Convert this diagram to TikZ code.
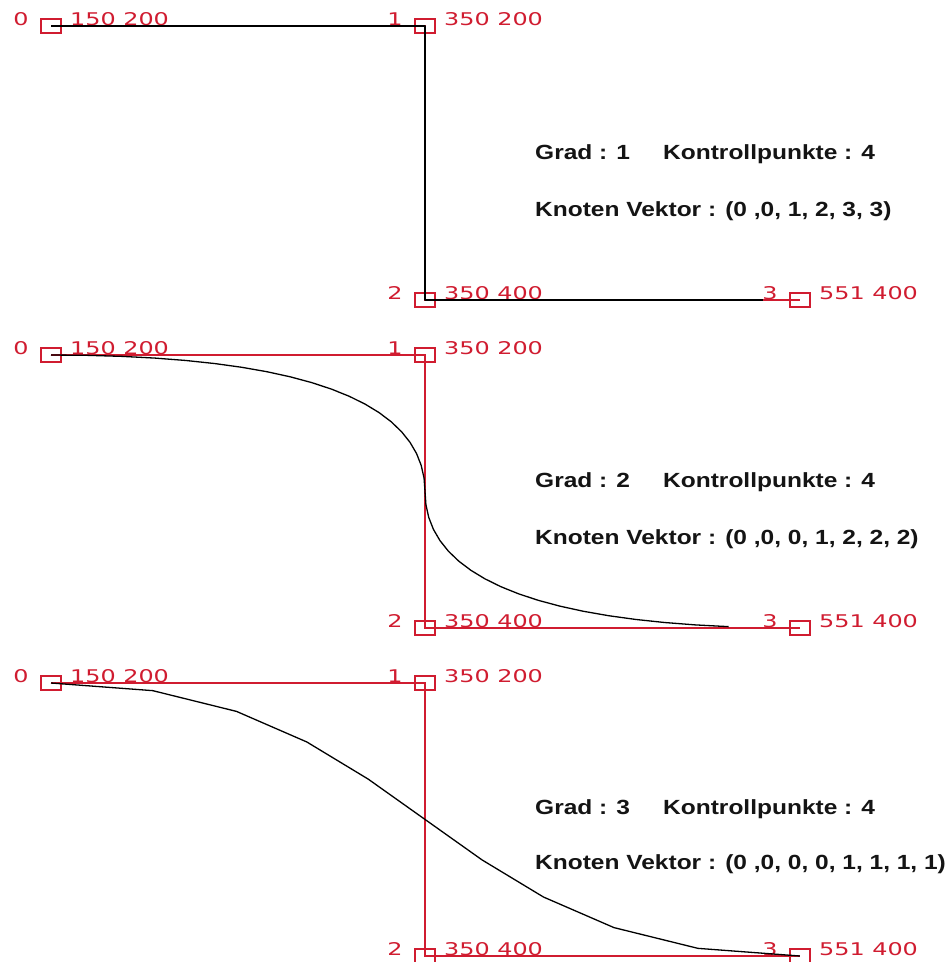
\documentclass[tikz,border=0pt]{standalone}
\usepackage{fontspec}
\newfontfamily\lblfont[FakeStretch=1.365]{DejaVu Sans}
\newfontfamily\infofont[FakeStretch=1.195]{Liberation Sans}
\definecolor{ctrlred}{RGB}{208,28,48}
\definecolor{infoblack}{RGB}{20,20,20}
\tikzset{
  ctrlbox/.style={draw=ctrlred, line width=1.4pt, minimum width=20pt, minimum height=14pt, inner sep=0pt},
  poly/.style={draw=ctrlred, line width=1.4pt},
  curve/.style={draw=black, line width=1.3pt, line join=round},
  idx/.style={text=ctrlred, font=\lblfont\fontsize{17.5}{20}\selectfont, inner sep=0pt, anchor=base},
  xy/.style={text=ctrlred, font=\lblfont\fontsize{17.5}{20}\selectfont, inner sep=0pt, anchor=base west},
  info/.style={text=infoblack, font=\infofont\bfseries\fontsize{20.5}{23}\selectfont, inner sep=0pt, anchor=base west}
}
\begin{document}
\begin{tikzpicture}[x=1pt,y=-1pt]
\fill[white] (0,0) rectangle (948,962);
\useasboundingbox (0,0) rectangle (948,962);

% ---------- degree 1 ----------
\node[ctrlbox] (a0) at (51,26) {};
\node[ctrlbox] (a1) at (425,26) {};
\node[ctrlbox] (a2) at (425,300) {};
\node[ctrlbox] (a3) at (800,300) {};
\draw[poly] (a0.center) -- (a1.center) -- (a2.center) -- (a3.center);
\node[idx] (a0i) at (21,25) {0};
\node[xy]  (a0c) at (70,25) {150 200};
\node[idx] (a1i) at (395,25) {1};
\node[xy]  (a1c) at (444,25) {350 200};
\node[idx] (a2i) at (395,299) {2};
\node[xy]  (a2c) at (444,299) {350 400};
\node[idx] (a3i) at (770,299) {3};
\node[xy]  (a3c) at (819,299) {551 400};
\coordinate (a3e) at (762.5,300);
\draw[curve] (a0.center) -- (a1.center) -- (a2.center) -- (a3e);
\node[info] (g1) at (535,159) {Grad : 1};
\node[info] (k1) at (663,159) {Kontrollpunkte : 4};
\node[info] (v1) at (535,216) {Knoten Vektor : (0 ,0, 1, 2, 3, 3)};

% ---------- degree 2 ----------
\node[ctrlbox] (b0) at (51,355) {};
\node[ctrlbox] (b1) at (425,355) {};
\node[ctrlbox] (b2) at (425,628) {};
\node[ctrlbox] (b3) at (800,628) {};
\draw[poly] (b0.center) -- (b1.center) -- (b2.center) -- (b3.center);
\node[idx] (b0i) at (21,354) {0};
\node[xy]  (b0c) at (70,354) {150 200};
\node[idx] (b1i) at (395,354) {1};
\node[xy]  (b1c) at (444,354) {350 200};
\node[idx] (b2i) at (395,627) {2};
\node[xy]  (b2c) at (444,627) {350 400};
\node[idx] (b3i) at (770,627) {3};
\node[xy]  (b3c) at (819,627) {551 400};
% quadratic B-spline, knots (0,0,0,1,2,2,2)
\draw[curve] plot[domain=0:1, samples=21] ({425-374*(1-\x)^2},{355+136.5*\x^2})
  -- plot[domain=0:0.9, samples=19] ({425+375*\x^2},{628-136.5*(1-\x)^2});
\node[info] (g2) at (535,487) {Grad : 2};
\node[info] (k2) at (663,487) {Kontrollpunkte : 4};
\node[info] (v2) at (535,544) {Knoten Vektor : (0 ,0, 0, 1, 2, 2, 2)};

% ---------- degree 3 ----------
\node[ctrlbox] (c0) at (51,683) {};
\node[ctrlbox] (c1) at (425,683) {};
\node[ctrlbox] (c2) at (425,956) {};
\node[ctrlbox] (c3) at (800,956) {};
\draw[poly] (c0.center) -- (c1.center) -- (c2.center) -- (c3.center);
\node[idx] (c0i) at (21,682) {0};
\node[xy]  (c0c) at (70,682) {150 200};
\node[idx] (c1i) at (395,682) {1};
\node[xy]  (c1c) at (444,682) {350 200};
\node[idx] (c2i) at (395,955) {2};
\node[xy]  (c2c) at (444,955) {350 400};
\node[idx] (c3i) at (770,955) {3};
\node[xy]  (c3c) at (819,955) {551 400};
% cubic B-spline, knots (0,0,0,0,1,1,1,1), sampled in steps of 0.1
\draw[curve] plot[domain=0:1, samples=11]
  ({51*(1-\x)^3+425*(3*\x*(1-\x)^2+3*\x^2*(1-\x))+800*\x^3},
   {683+273*(3*\x^2*(1-\x)+\x^3)});
\node[info] (g3) at (535,814) {Grad : 3};
\node[info] (k3) at (663,814) {Kontrollpunkte : 4};
\node[info] (v3) at (535,869) {Knoten Vektor : (0 ,0, 0, 0, 1, 1, 1, 1)};
\end{tikzpicture}
\end{document}
